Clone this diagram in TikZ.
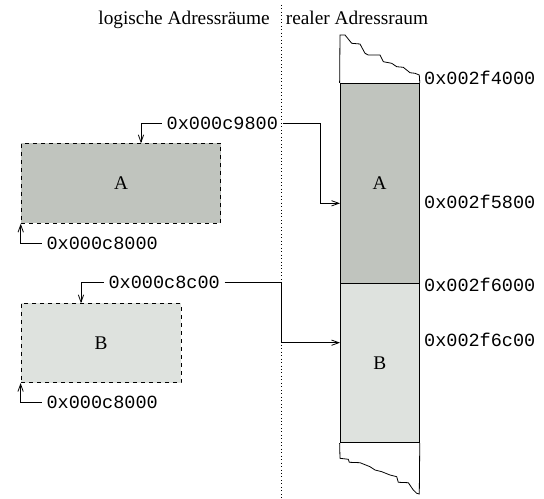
\documentclass[tikz,border=0pt]{standalone}
\usepackage{fontspec}
\setmainfont{Liberation Serif}
\setmonofont{Liberation Mono}
\usetikzlibrary{arrows.meta}
\definecolor{segA}{RGB}{192,196,190}
\definecolor{segB}{RGB}{222,226,222}

\begin{document}
\begin{tikzpicture}[x=0.75pt, y=-0.75pt, line width=0.6pt, >={Straight Barb[length=5.5pt, width=4pt]}]
	\tikzstyle{every node} = [font=\fontsize{14.5}{17}\selectfont]
	\tikzstyle{logbox} = [draw, dashed, inner sep=0pt]
	\tikzstyle{physbox} = [draw, inner sep=0pt, minimum width=59.5pt]
	\tikzstyle{addr} = [font=\fontsize{13.9}{16}\selectfont\ttfamily]
	\useasboundingbox (0,0) rectangle (544,499);
	% headings and separator
	\draw [dotted] (281,5) -- (281,499);
	\node (hLog) [anchor=base east] at (274.5,24.5) {logische Adressräume};
	\node (hReal) [anchor=base west] at (281,24.5) {realer Adressraum};
	% logical segments
	\node (logA) [logbox, fill=segA, minimum width=149.8pt, minimum height=60pt] at (121,183.3) {A};
	\node (logB) [logbox, fill=segB, minimum width=120pt, minimum height=59.5pt] at (101,343) {B};
	% physical memory
	\node (physA) [physbox, fill=segA, minimum height=150pt] at (379.7,183.3) {A};
	\node (physB) [physbox, fill=segB, minimum height=119.5pt] at (379.7,363) {B};
	\draw (physA.north west) -- (340,35) -- (345,35) -- (351.7,43.3) -- (360,44) -- (365,53.3)
		-- (368.3,55) -- (380,55) -- (383.3,61.7) -- (391.7,63.3) -- (396.7,66.7) -- (403.3,67.3)
		-- (410,72.7) -- (415,73.3) -- (419.3,75) -- (physA.north east);
	\draw (physB.south west) -- (340,458.3) -- (348.3,459.3) -- (349.3,462.3) -- (360,462.7)
		-- (370,466.7) -- (375,470) -- (381.7,471.7) -- (390,475) -- (396.7,476.7) -- (398.3,482.3)
		-- (408.3,482.7) -- (413.3,490) -- (416.7,493.3) -- (419.3,494) -- (physB.south east);
	% physical addresses
	\node (p4000) [addr, anchor=west] at (419.3,77.5) {0x002f4000};
	\node (p5800) [addr, anchor=west] at (419.3,201.7) {0x002f5800};
	\node (p6000) [addr, anchor=west] at (419.3,285) {0x002f6000};
	\node (p6c00) [addr, anchor=west] at (419.3,340) {0x002f6c00};
	% logical addresses
	\node (addrA) [addr] at (222.3,123) {0x000c9800};
	\node (baseA) [addr] at (102.2,243.3) {0x000c8000};
	\node (addrB) [addr] at (164.2,282.7) {0x000c8c00};
	\node (baseB) [addr] at (102.2,402.7) {0x000c8000};
	\coordinate (inA) at (141,143.3);
	\coordinate (inB) at (81,303.3);
	\coordinate (bendA) at (320,203.3);
	\coordinate (bendB) at (281,342.7);
	\coordinate (hitA) at (340,203.3);
	\coordinate (hitB) at (340,342.7);
	\draw [->] (addrA.west) -| (inA);
	\draw [->] (addrA.east) -| (bendA) -- (hitA);
	\draw [->] (baseA.west) -| (logA.south west);
	\draw [->] (addrB.west) -| (inB);
	\draw [->] (addrB.east) -| (bendB) -- (hitB);
	\draw [->] (baseB.west) -| (logB.south west);
\end{tikzpicture}
\end{document}
